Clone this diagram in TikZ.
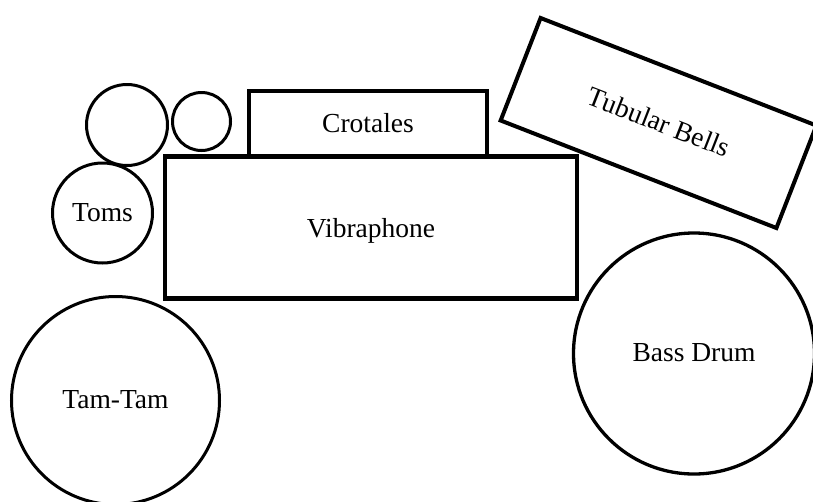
\documentclass[tikz,border=0pt]{standalone}
\usepackage{fontspec}
\setmainfont{Liberation Serif}
\begin{document}
\begin{tikzpicture}[x=1pt,y=-1pt,
  lbl/.style={font=\fontsize{27.5}{30}\selectfont, text height=22pt, text depth=6pt, align=center},
  box/.style={draw, line width=4.5pt, inner sep=0pt, lbl},
  drum/.style={draw, circle, line width=3pt, inner sep=0pt, lbl}]
\useasboundingbox (0,0) rectangle (813,501);
\node[box, minimum width=238pt, minimum height=66pt] (crot) at (368,124) {Crotales};
\node[box, minimum width=412pt, minimum height=142pt] (vib) at (371,227.5) {\raisebox{-2pt}{Vibraphone}};
\node[box, line width=4pt, minimum width=296pt, minimum height=110pt, rotate=-21.3] (tub) at (658.5,123) {Tubular Bells};
\node[drum, minimum size=81pt] (c1) at (127,125) {};
\node[drum, minimum size=58pt] (c2) at (201.5,121.5) {};
\node[drum, minimum size=100pt] (toms) at (102.5,213) {Toms};
\node[drum, minimum size=208pt] (tam) at (115.5,400.5) {Tam-Tam};
\node[drum, line width=3.3pt, minimum size=241pt] (bass) at (694,353.5) {Bass Drum};
\end{tikzpicture}
\end{document}
